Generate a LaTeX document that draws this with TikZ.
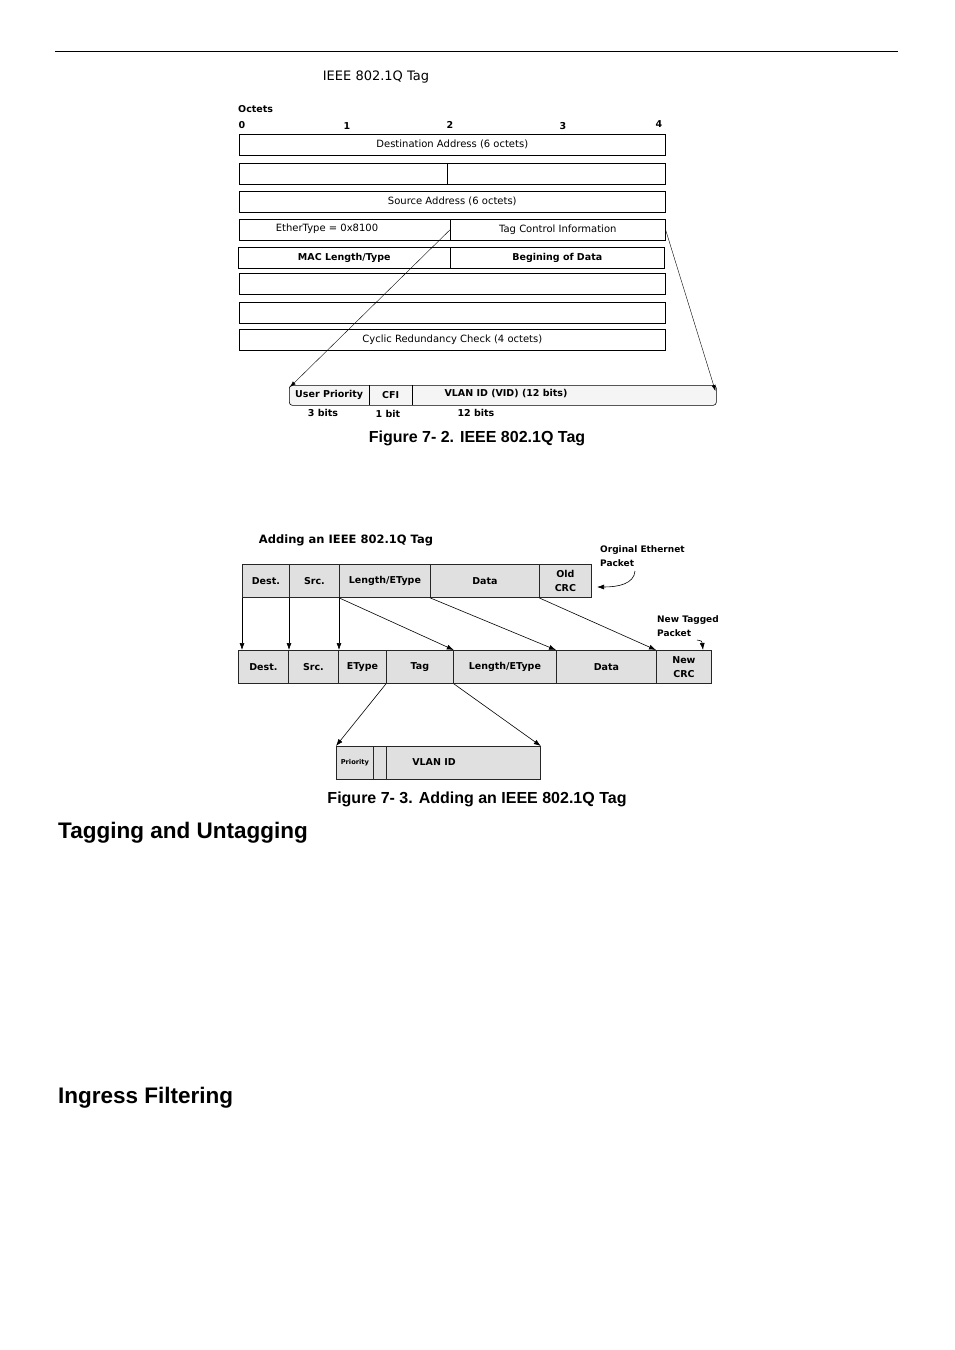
\documentclass[tikz,border=0pt]{standalone}
\usepackage{fontspec}
\setmainfont{Liberation Sans}
\newfontfamily\cf{DejaVu Sans}
\usetikzlibrary{arrows.meta,calc}
\newcommand\mybox[7]{%
  \pgfmathsetmacro\mybw{#4-#2}\pgfmathsetmacro\mybh{#5-#3}%
  \node[#6, anchor=north west, minimum width=\mybw pt, minimum height=\mybh pt] (#1) at (#2,#3) {#7};}
\begin{document}
\begin{tikzpicture}[x=1pt,y=-1pt,
  lbl/.style={inner sep=0pt, font=\cf\fontsize{10}{11}\selectfont},
  blbl/.style={inner sep=0pt, font=\cf\bfseries\fontsize{9.5}{11}\selectfont, align=center},
  row/.style={draw, inner sep=0pt, line width=0.6pt, font=\cf\fontsize{10}{11}\selectfont},
  brow/.style={row, font=\cf\bfseries\fontsize{9.5}{11}\selectfont},
  cell/.style={inner sep=0pt, font=\cf\bfseries\fontsize{9.5}{11}\selectfont},
  fld/.style={draw=black!85, fill=black!12, inner sep=0pt, line width=0.8pt, align=center,
              font=\cf\bfseries\fontsize{9.5}{13.5}\selectfont},
  arr/.style={-{Latex[length=6pt,width=4pt]}, line width=0.4pt},
  arrb/.style={-{Latex[length=7pt,width=5pt]}, line width=0.6pt},
  captxt/.style={inner sep=0pt, font=\bfseries\fontsize{16}{18}\selectfont},
  headtxt/.style={inner sep=0pt, anchor=west, font=\bfseries\fontsize{22.5}{26}\selectfont}
]
\useasboundingbox (0,0) rectangle (954,1350);
\fill[white] (0,0) rectangle (954,1350);
\draw[line width=0.8pt] (55,51) -- (898,51);

% ---------- Figure 7-2 ----------
\node[inner sep=0pt, font=\cf\fontsize{13}{15}\selectfont] (title1) at (376,77) {IEEE 802.1Q Tag};
\node[blbl, anchor=west] (oct) at (238,109) {Octets};
\node[blbl] (o0) at (242,125) {0};
\node[blbl] (o1) at (347,126) {1};
\node[blbl] (o2) at (450,125) {2};
\node[blbl] (o3) at (563,126) {3};
\node[blbl] (o4) at (659,124) {4};

\mybox{r1}{239}{134}{665}{155}{row}{Destination Address (6 octets)}
\mybox{r2a}{239}{163}{447}{184}{row}{}
\mybox{r2b}{447}{163}{665}{184}{row}{}
\mybox{r3}{239}{191}{665}{212}{row}{Source Address (6 octets)}
\mybox{r4a}{239}{219}{450}{240}{row}{}
\node[lbl] (r4at) at (327,228.5) {EtherType = 0x8100};
\mybox{r4b}{450}{219}{665}{240}{row}{Tag Control Information}
\mybox{r5a}{238}{247}{450}{268}{brow}{MAC Length/Type}
\mybox{r5b}{450}{247}{664}{268}{brow}{Begining of Data}
\mybox{r6}{239}{273}{665}{294}{row}{}
\mybox{r7}{239}{302}{665}{323}{row}{}
\mybox{r8}{239}{329}{665}{350}{row}{Cyclic Redundancy Check (4 octets)}

\mybox{bar}{289}{385}{716}{405}{draw, rounded corners=3pt, fill=black!4, inner sep=0pt, line width=0.6pt}{}
\mybox{up}{289}{385}{369}{405}{cell}{User Priority}
\mybox{cfi}{369}{385}{412}{405}{cell}{CFI}
\mybox{vid}{412}{385}{716}{405}{cell}{}
\node[blbl] (vidt) at (506,394) {VLAN ID (VID) (12 bits)};
\draw[line width=0.6pt] (up.north east) -- (up.south east);
\draw[line width=0.6pt] (cfi.north east) -- (cfi.south east);
\node[blbl] (b3) at (323,413) {3 bits};
\node[blbl] (b1) at (388,414) {1 bit};
\node[blbl] (b12) at (476,413) {12 bits};

\draw[arr] (r4b.west) -- ($(up.north west)+(1,2)$);
\draw[arr] (r4b.east) -- ($(vid.north east)+(-1,6)$);

\node[captxt] (cap1) at (477,438) {Figure 7- 2. IEEE 802.1Q Tag};

% ---------- Figure 7-3 ----------
\node[inner sep=0pt, font=\cf\bfseries\fontsize{11.5}{13}\selectfont] (title2) at (346,540) {Adding an IEEE 802.1Q Tag};

\mybox{p1}{242}{564}{289}{597}{fld}{Dest.}
\mybox{p2}{289}{564}{339}{597}{fld}{Src.}
\mybox{p3}{339}{564}{430}{597}{fld}{Length/EType}
\mybox{p4}{430}{564}{539}{597}{fld}{Data}
\mybox{p5}{539}{564}{591}{597}{fld}{Old\\CRC}

\mybox{q1}{238}{650}{288}{683}{fld}{Dest.}
\mybox{q2}{288}{650}{338}{683}{fld}{Src.}
\mybox{q3}{338}{650}{386}{683}{fld}{EType}
\mybox{q4}{386}{650}{453}{683}{fld}{Tag}
\mybox{q5}{453}{650}{556}{683}{fld}{Length/EType}
\mybox{q6}{556}{650}{656}{683}{fld}{Data}
\mybox{q7}{656}{650}{711}{683}{fld}{New\\CRC}

\node[inner sep=0pt, anchor=north west, align=left, font=\cf\bfseries\fontsize{9}{14}\selectfont] (orig) at (600,545) {Orginal Ethernet\\Packet};
\coordinate (origA) at (635,571);
\coordinate (origB) at (597,587);
\draw[arrb] (origA) .. controls (634,584) and (618,587) .. (origB);

\node[inner sep=0pt, anchor=north west, align=left, font=\cf\bfseries\fontsize{9}{14}\selectfont] (newt) at (657,615) {New Tagged\\Packet};
\coordinate (newA) at (697,640);
\coordinate (newB) at (703,650);
\draw[arrb] (newA) .. controls (702,641) .. (newB);

\draw[arrb] (p1.south west) -- (p1.south west |- q1.north);
\draw[arrb] (p2.south west) -- (p2.south west |- q2.north);
\draw[arrb] (p3.south west) -- (p3.south west |- q3.north);
\draw[arrb] (p3.south west) -- (q4.north east);
\draw[arrb] (p4.south west) -- (q6.north west);
\draw[arrb] (p5.south west) -- (q7.north west);

\mybox{t1}{336}{746}{373}{779}{fld, font=\cf\bfseries\fontsize{6.7}{8}\selectfont}{Priority}
\mybox{t2}{373}{746}{386}{779}{fld}{}
\mybox{t3}{386}{746}{540}{779}{fld}{}
\node[blbl] (t3t) at (434,762) {VLAN ID};

\draw[arrb] (q4.south west) -- (t1.north west);
\draw[arrb] (q4.south east) -- (t3.north east);

\node[captxt] (cap2) at (477,799) {Figure 7- 3. Adding an IEEE 802.1Q Tag};

\node[headtxt] (h1) at (58,833) {Tagging and Untagging};
\node[headtxt] (h2) at (58,1098) {Ingress Filtering};
\end{tikzpicture}
\end{document}
